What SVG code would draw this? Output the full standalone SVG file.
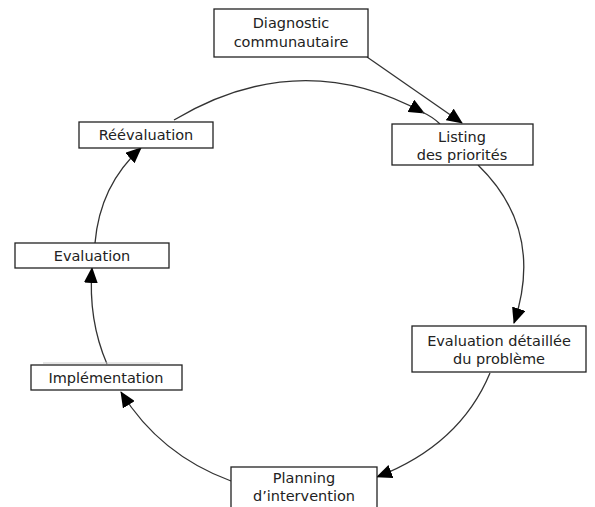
<svg xmlns="http://www.w3.org/2000/svg" width="595" height="507" viewBox="0 0 595 507">
<style>
.box{fill:#fff;stroke:#222;stroke-width:1.3}
.t{font-family:"DejaVu Sans","Open Sans",sans-serif;font-size:14.5px;fill:#222;text-anchor:middle}
.c{fill:none;stroke:#333;stroke-width:1.3}
</style>
<defs>
<marker id="ah" markerWidth="16" markerHeight="14" refX="15" refY="7" orient="auto" markerUnits="userSpaceOnUse">
<path d="M0,0 L16,7 L0,14 Z" fill="#000"/>
</marker>
</defs>
<rect width="595" height="507" fill="#fff"/>
<g id="connectors">
<path class="c" d="M367,57 L462,123" marker-end="url(#ah)"/>
<path class="c" d="M174,120 Q300,45 424,113" marker-end="url(#ah)"/>
<path class="c" d="M422,112 Q433,117 440,124"/>
<path class="c" d="M478,165 Q545,230 514,323" marker-end="url(#ah)"/>
<path class="c" d="M490,373 Q460,445 377,477" marker-end="url(#ah)"/>
<path class="c" d="M231,481 Q160,455 121,392" marker-end="url(#ah)"/>
<path class="c" d="M107,364 Q88,320 92,268" marker-end="url(#ah)"/>
<path class="c" d="M95,243 Q100,185 141,148" marker-end="url(#ah)"/>
<line x1="43" y1="363" x2="160" y2="363" stroke="#ccc" stroke-width="1"/>
</g>
<g id="diagnostic">
<rect class="box" x="214" y="9" width="154" height="48"/>
<text class="t" x="291" y="28">Diagnostic</text>
<text class="t" x="291" y="47">communautaire</text>
</g>
<g id="listing">
<rect class="box" x="392" y="124" width="141" height="41"/>
<text class="t" x="462" y="142">Listing</text>
<text class="t" x="462" y="160">des priorités</text>
</g>
<g id="evaldetail">
<rect class="box" x="412" y="326" width="174" height="46"/>
<text class="t" x="499" y="346">Evaluation détaillée</text>
<text class="t" x="499" y="364">du problème</text>
</g>
<g id="planning">
<rect class="box" x="231" y="467" width="146" height="50"/>
<text class="t" x="304" y="483">Planning</text>
<text class="t" x="304" y="501">d’intervention</text>
</g>
<g id="implementation">
<rect class="box" x="31" y="365" width="151" height="25"/>
<text class="t" x="106" y="383">Implémentation</text>
</g>
<g id="evaluation">
<rect class="box" x="15" y="243" width="154" height="25"/>
<text class="t" x="92" y="261">Evaluation</text>
</g>
<g id="reevaluation">
<rect class="box" x="79" y="122" width="134" height="26"/>
<text class="t" x="146" y="140">Réévaluation</text>
</g>
</svg>
